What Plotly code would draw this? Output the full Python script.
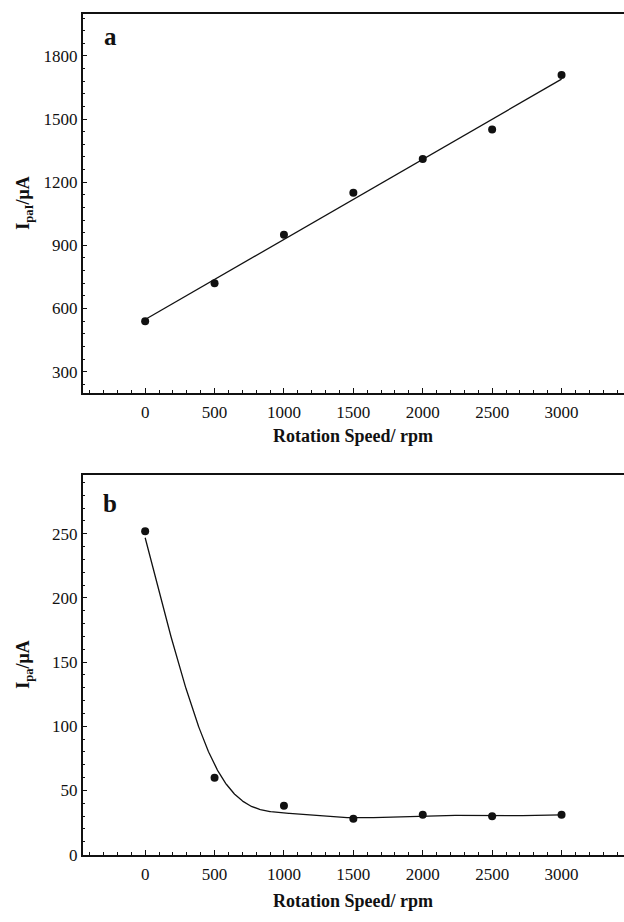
import numpy as np
import plotly.graph_objects as go

# Rotation speed (rpm) shared by both panels
speed_rpm = [0, 500, 1000, 1500, 2000, 2500, 3000]
# Panel a: anodic peak current I_paI (µA)
ipa1_uA = [540, 720, 950, 1150, 1310, 1450, 1710]
# Panel b: anodic peak current I_pa (µA)
ipa_uA = [252, 60, 38, 28, 31, 30, 31]

x_ticks = [0, 500, 1000, 1500, 2000, 2500, 3000]
y_ticks_a = [300, 600, 900, 1200, 1500, 1800]
y_ticks_b = [0, 50, 100, 150, 200, 250]

# smoothing parameter of the cubic smoothing spline drawn in panel b
spline_lambda = 3e6


def smoothing_spline(xk, yk, lam, xs):
    """Natural cubic smoothing spline (Reinsch form) evaluated at xs."""
    xk = np.asarray(xk, float)
    yk = np.asarray(yk, float)
    n = len(xk)
    h = np.diff(xk)
    Q = np.zeros((n, n - 2))
    R = np.zeros((n - 2, n - 2))
    for j in range(1, n - 1):
        c = j - 1
        Q[j - 1, c] = 1 / h[j - 1]
        Q[j, c] = -1 / h[j - 1] - 1 / h[j]
        Q[j + 1, c] = 1 / h[j]
        R[c, c] = (h[j - 1] + h[j]) / 3
        if c + 1 < n - 2:
            R[c, c + 1] = R[c + 1, c] = h[j] / 6
    gam = np.linalg.solve(R + lam * Q.T @ Q, Q.T @ yk)
    g = yk - lam * Q @ gam
    m = np.concatenate([[0.0], gam, [0.0]])
    out = np.empty_like(xs)
    for k, xv in enumerate(xs):
        i = int(np.clip(np.searchsorted(xk, xv, side="right") - 1, 0, n - 2))
        hi = h[i]
        a = xk[i + 1] - xv
        b = xv - xk[i]
        out[k] = ((m[i] * a ** 3 + m[i + 1] * b ** 3) / (6 * hi)
                  + (g[i] / hi - m[i] * hi / 6) * a
                  + (g[i + 1] / hi - m[i + 1] * hi / 6) * b)
    return out


x = np.array(speed_rpm, dtype=float)
ya = np.array(ipa1_uA, dtype=float)

# linear least-squares fit for panel a
slope, intercept = np.polyfit(x, ya, 1)
xa_fit = np.array([x.min(), x.max()])
ya_fit = slope * xa_fit + intercept

# smoothed curve for panel b
xb_fit = np.linspace(0, 3000, 601)
yb_fit = smoothing_spline(speed_rpm, ipa_uA, spline_lambda, xb_fit)

SERIF = "Liberation Serif, Times New Roman, serif"
W, H = 624, 922
x_dom = [82.7 / W, 1.0]
ya_dom = [1 - 397 / H, 1 - 14 / H]
yb_dom = [1 - 864 / H, 1 - 480 / H]

fig = go.Figure()
mk = dict(color="#111111", size=8)
ln = dict(color="#111111", width=1.3)

fig.add_trace(go.Scatter(x=xa_fit, y=ya_fit, mode="lines", line=ln,
                         xaxis="x", yaxis="y", showlegend=False, hoverinfo="skip"))
fig.add_trace(go.Scatter(x=speed_rpm, y=ipa1_uA, mode="markers", marker=mk,
                         xaxis="x", yaxis="y", showlegend=False))
fig.add_trace(go.Scatter(x=xb_fit, y=yb_fit, mode="lines", line=ln,
                         xaxis="x2", yaxis="y2", showlegend=False, hoverinfo="skip"))
fig.add_trace(go.Scatter(x=speed_rpm, y=ipa_uA, mode="markers", marker=mk,
                         xaxis="x2", yaxis="y2", showlegend=False))

tickfont = dict(family=SERIF, size=17, color="#111111")


def xaxis(anchor):
    return dict(domain=x_dom, anchor=anchor, range=[-450, 3450],
                tickmode="array", tickvals=x_ticks,
                ticks="inside", ticklen=5, tickwidth=1, tickcolor="#111111",
                minor=dict(ticks="inside", ticklen=3, tickwidth=1, tickcolor="#111111",
                           dtick=100, tick0=0),
                showline=True, linecolor="#111111", linewidth=1.5, mirror=True,
                showgrid=False, zeroline=False, tickfont=tickfont,
                ticklabelstandoff=3)


def yaxis(anchor, dom, rng, tv, minor_dt):
    return dict(domain=dom, anchor=anchor, range=rng,
                tickmode="array", tickvals=tv,
                ticks="inside", ticklen=5, tickwidth=1, tickcolor="#111111",
                minor=dict(ticks="inside", ticklen=3, tickwidth=1, tickcolor="#111111",
                           dtick=minor_dt, tick0=0),
                showline=True, linecolor="#111111", linewidth=1.5, mirror=False,
                showgrid=False, zeroline=False, tickfont=tickfont,
                ticklabelstandoff=0)


fig.update_layout(
    width=W, height=H,
    margin=dict(l=0, r=0, t=0, b=0),
    paper_bgcolor="white", plot_bgcolor="white",
    xaxis=xaxis("y"),
    yaxis=yaxis("x", ya_dom, [200, 2000], y_ticks_a, 60),
    xaxis2=xaxis("y2"),
    yaxis2=yaxis("x2", yb_dom, [0, 296], y_ticks_b, 10),
    showlegend=False,
)

title_font = dict(family=SERIF, size=18, color="#111111")
ann = [
    dict(text="<b>a</b>", x=110 / W, y=1 - 37 / H, font=dict(family=SERIF, size=25, color="#111111")),
    dict(text="<b>b</b>", x=110 / W, y=1 - 509 / H, font=dict(family=SERIF, size=25, color="#111111")),
    dict(text="<b>Rotation Speed/ rpm</b>", x=353 / W, y=1 - 441 / H, font=title_font),
    dict(text="<b>Rotation Speed/ rpm</b>", x=353 / W, y=1 - 911 / H, font=title_font),
    dict(text="<b>I<sub>paI</sub>/μA</b>", x=25 / W, y=1 - 206 / H, textangle=-90, font=title_font),
    dict(text="<b>I<sub>pa</sub>/μA</b>", x=25 / W, y=1 - 672 / H, textangle=-90, font=title_font),
]
for a in ann:
    a.update(xref="paper", yref="paper", showarrow=False, xanchor="center", yanchor="middle")
fig.update_layout(annotations=ann)

fig.write_html("out.html")
